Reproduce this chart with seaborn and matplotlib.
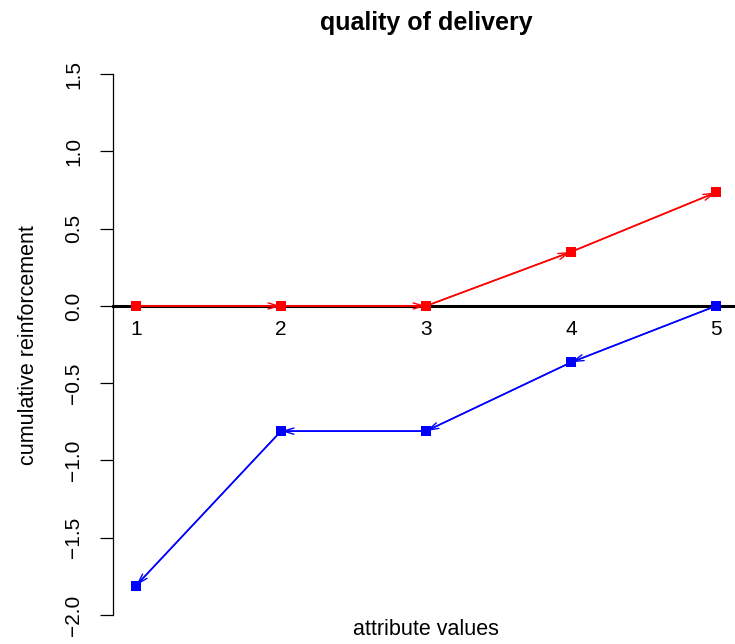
import numpy as np
import pandas as pd
import matplotlib
matplotlib.use("Agg")
import matplotlib.pyplot as plt
import seaborn as sns

# Data
attr_values = [1, 2, 3, 4, 5]
pos_reinf = [0.0, 0.0, 0.0, 0.35, 0.735]      # red, arrows point right
neg_reinf = [-1.81, -0.81, -0.81, -0.365, 0.0]  # blue, arrows point left
y_ticks = [-2.0, -1.5, -1.0, -0.5, 0.0, 0.5, 1.0, 1.5]

df = pd.DataFrame({"x": attr_values, "pos": pos_reinf, "neg": neg_reinf})

sns.set_style("white")
plt.rcParams["font.family"] = ["Liberation Sans", "DejaVu Sans"]
plt.rcParams["text.color"] = "black"
plt.rcParams["axes.labelcolor"] = "black"
plt.rcParams["xtick.color"] = "black"
plt.rcParams["ytick.color"] = "black"

fig = plt.figure(figsize=(7.35, 6.44), dpi=100)
ax = fig.add_axes([112.8 / 735, 7.4 / 644, 626.4 / 735, 584 / 644])

# lines + square markers
sns.lineplot(data=df, x="x", y="pos", color="red", lw=1.2, marker="s",
             markersize=7, markeredgewidth=0, ax=ax, zorder=4)
sns.lineplot(data=df, x="x", y="neg", color="blue", lw=1.2, marker="s",
             markersize=7, markeredgewidth=0, ax=ax, zorder=4)

# arrow heads on each segment
head = "->,head_length=0.75,head_width=0.22"
for i in range(len(attr_values) - 1):
    ax.annotate("", xy=(attr_values[i + 1], pos_reinf[i + 1]),
                xytext=(attr_values[i], pos_reinf[i]),
                arrowprops=dict(arrowstyle=head, color="red", lw=1.0,
                                shrinkA=0, shrinkB=0), zorder=3)
    ax.annotate("", xy=(attr_values[i], neg_reinf[i]),
                xytext=(attr_values[i + 1], neg_reinf[i + 1]),
                arrowprops=dict(arrowstyle=head, color="blue", lw=1.0,
                                shrinkA=0, shrinkB=0), zorder=3)

# R-like padding of 4 %
ax.set_xlim(1 - 0.04 * 4, 5 + 0.04 * 4)
ax.set_ylim(-2 - 0.04 * 3.5, 1.5 + 0.04 * 3.5)

# x axis sits on y = 0
for s in ["top", "right"]:
    ax.spines[s].set_visible(False)
ax.spines["bottom"].set_position(("data", 0))
ax.spines["bottom"].set_linewidth(2.2)
ax.spines["bottom"].set_color("black")
ax.spines["bottom"].set_zorder(2)
ax.spines["left"].set_bounds(y_ticks[0], y_ticks[-1])
ax.spines["left"].set_linewidth(0.9)
ax.spines["left"].set_color("black")

ax.set_xticks(attr_values)
ax.set_xticklabels([str(v) for v in attr_values])
ax.set_yticks(y_ticks)
ax.set_yticklabels([f"{v:.1f}".replace("-", "\u2212") for v in y_ticks])
ax.tick_params(axis="x", length=0, pad=10, labelsize=15)
ax.tick_params(axis="y", length=9.5, width=0.9, pad=12, labelsize=15,
               direction="out", left=True)
for lab in ax.get_yticklabels():
    lab.set_rotation(90)
    lab.set_va("center")

ax.set_title("quality of delivery", fontsize=18, fontweight="bold", pad=16)
ax.set_xlabel("attribute values", fontsize=15.5)
ax.xaxis.set_label_coords(0.5, 0.03)
ax.set_ylabel("cumulative reinforcement", fontsize=15.5)
ax.yaxis.set_label_coords(-0.118, 0.5)

plt.savefig("out.png", dpi=100)
